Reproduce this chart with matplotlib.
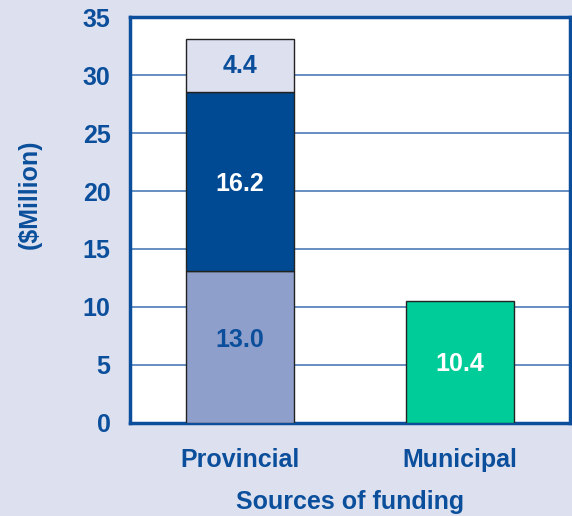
import matplotlib
matplotlib.use("Agg")
import matplotlib.pyplot as plt

categories = ["Provincial", "Municipal"]
# stacked segments for Provincial (bottom to top), heights as drawn
prov_segments = [13.1, 15.4, 4.6]
prov_labels = ["13.0", "16.2", "4.4"]
muni_value = [10.5]
muni_labels = ["10.4"]
yticks = [0, 5, 10, 15, 20, 25, 30, 35]

BG = "#DDE1EF"
BLUE = "#0B4F9C"
seg_colors = ["#8F9FCB", "#004A93", "#DCE0EF"]
seg_text = [BLUE, "white", BLUE]
seg_label_shift = [0.6, -0.2, 0.0]
GREEN = "#00CC99"

plt.rcParams["font.family"] = ["Liberation Sans", "DejaVu Sans"]
plt.rcParams["font.weight"] = "bold"

FS = 18

fig = plt.figure(figsize=(5.72, 5.16), dpi=100, facecolor=BG)
ax = fig.add_axes([130/572, 1-423/516, 440/572, (423-17)/516])
ax.set_facecolor("white")

width = 0.49
bottom = 0
for h, c, lab, tc, sh in zip(prov_segments, seg_colors, prov_labels, seg_text, seg_label_shift):
    ax.bar(0, h, width, bottom=bottom, color=c, edgecolor="#222222", linewidth=1.0, zorder=3)
    ax.text(0, bottom + h/2 + sh, lab, ha="center", va="center", color=tc,
            fontsize=FS, fontweight="bold", zorder=4)
    bottom += h

ax.bar(1, muni_value[0], width, color=GREEN, edgecolor="#222222", linewidth=1.0, zorder=3)
ax.text(1, muni_value[0]/2 - 0.2, muni_labels[0], ha="center", va="center", color="white",
        fontsize=FS, fontweight="bold", zorder=4)

ax.set_xlim(-0.5, 1.5)
ax.set_ylim(0, 35)
ax.set_yticks(yticks)
ax.set_yticklabels([str(v) for v in yticks], fontsize=FS, fontweight="bold", color=BLUE)
ax.set_xticks([0, 1])
ax.set_xticklabels(categories, fontsize=FS, fontweight="bold", color=BLUE)
ax.tick_params(axis="both", length=0)
ax.tick_params(axis="y", pad=14)
ax.tick_params(axis="x", pad=18)
ax.yaxis.grid(True, color="#4A7AB5", linewidth=1.2, zorder=0)
ax.set_axisbelow(True)
for s in ax.spines.values():
    s.set_color(BLUE)
    s.set_linewidth(2.5)

fig.text(30/572, 1-194/516, "($Million)", rotation=90, ha="center", va="center",
         fontsize=FS, fontweight="bold", color=BLUE)
fig.text(350/572, 1-502/516, "Sources of funding", ha="center", va="center",
         fontsize=FS, fontweight="bold", color=BLUE)

fig.savefig("out.png", dpi=100, facecolor=BG)
